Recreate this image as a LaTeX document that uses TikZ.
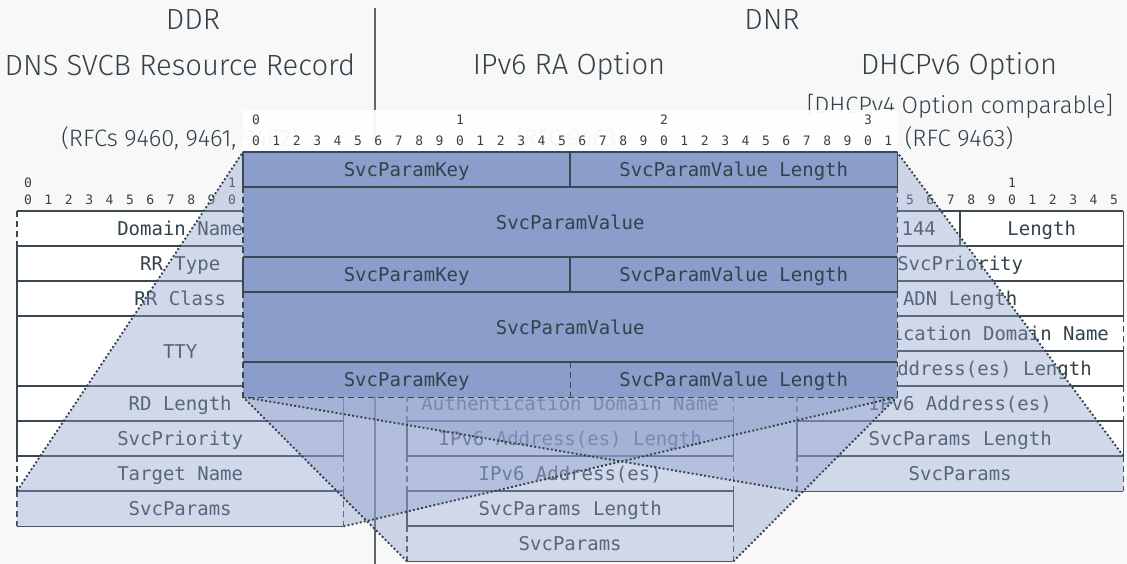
\documentclass[tikz,border=0pt]{standalone}
\usepackage{fontspec}
\setmainfont{Fira Sans Light}
\newfontfamily\fieldfont{DejaVu Sans Mono}
\definecolor{canvas}{HTML}{F8F8F8}
\definecolor{ink}{HTML}{33424A}
\definecolor{edge}{HTML}{3A4850}
\definecolor{param}{HTML}{8B9ECB}
\definecolor{divider}{HTML}{60676B}

\tikzset{
  heading/.style={font=\fontsize{29.2}{34}\selectfont, text=ink, anchor=base, inner sep=0},
  note/.style={font=\fontsize{23.8}{28}\selectfont, text=ink, anchor=base, inner sep=0},
  bitnum/.style={font=\fieldfont\fontsize{13}{13}\selectfont, text=ink, inner sep=0},
  field/.style={font=\fieldfont\fontsize{19}{19}\selectfont, text=ink, inner sep=0,
    text height=13.8pt, text depth=0pt, anchor=north west},
  border/.style={draw=edge, line width=1.2pt},
  open/.style={border, dash pattern=on 6pt off 4pt},
  funnel/.style={fill=param, fill opacity=0.4},
  zoomline/.style={draw=ink, line width=1.9pt, dash pattern=on 1.9pt off 2.3pt},
}

% \fieldrow{name}{x}{y}{width}{height}{label}{side style}{fill}
\newcommand\fieldrow[8]{%
  \node[field, fill=#8, minimum width=#4pt, minimum height=#5pt] (#1) at (#2,#3) {#6};
  \draw[border] (#1.north west) -- (#1.north east) (#1.south west) -- (#1.south east);
  \draw[#7] (#1.north west) -- (#1.south west) (#1.north east) -- (#1.south east);
}

\begin{document}
\begin{tikzpicture}[x=1pt, y=-1pt]
\useasboundingbox (0,0) rectangle (1127,564);
\fill[canvas] (0,0) rectangle (1127,564);

% corners of the magnified SvcParams block
\coordinate (ovNW) at (243,152);
\coordinate (ovNE) at (897,152);
\coordinate (ovSE) at (897,397);
\coordinate (ovSW) at (243,397);

% headings
\node[heading] (ddr) at (193,30) {DDR};
\node[heading] (svcb) at (180,76) {DNS SVCB Resource Record};
\node[heading] (dnr) at (772,30) {DNR};
\node[heading] (ra) at (569,75) {IPv6 RA Option};
\node[heading] (dhcp) at (959,75) {DHCPv6 Option};
\node[note] (v4) at (960,114) {[DHCPv4 Option comparable]};
\node[note] (rfcsvcb) at (180,147) {(RFCs 9460, 9461, 9462)};
\node[note] (rfcra) at (570,147) {(RFC 9463)};
\node[note] (rfcdhcp) at (959,147) {(RFC 9463)};

% DDR | DNR separator
\coordinate (septop) at (375,8);
\coordinate (sepbot) at (375,564);
\draw[divider, line width=1.5pt] (septop) -- (sepbot);

% bit rulers of the 16-bit layouts
\foreach \i in {0,...,15} {
  \pgfmathtruncatemacro\d{mod(\i,10)}
  \node[bitnum] (lbit\i) at (28+20.4*\i,200) {\d};
  \node[bitnum] (rbit\i) at (808+20.4*\i,200) {\d};
}
\node[bitnum] (lten0) at (28,183) {0};
\node[bitnum] (lten1) at (232,183) {1};
\node[bitnum] (rten0) at (808,183) {0};
\node[bitnum] (rten1) at (1012,183) {1};

% DNS SVCB resource record
\fieldrow{dn}{17}{211}{326}{35}{Domain Name}{open}{white}
\fieldrow{rrtype}{17}{246}{326}{35}{RR Type}{border}{white}
\fieldrow{rrclass}{17}{281}{326}{35}{RR Class}{border}{white}
\fieldrow{ttl}{17}{316}{326}{70}{TTY}{border}{white}
\fieldrow{rdlen}{17}{386}{326}{35}{RD Length}{border}{white}
\fieldrow{ddrprio}{17}{421}{326}{35}{SvcPriority}{border}{white}
\fieldrow{target}{17}{456}{326}{35}{Target Name}{open}{white}
\fieldrow{ddrparams}{17}{491}{326}{35}{SvcParams}{open}{white}

% IPv6 RA option
\fieldrow{raadn}{407}{386}{326}{35}{Authentication Domain Name}{open}{white}
\fieldrow{raaddrlen}{407}{421}{326}{35}{IPv6 Address(es) Length}{border}{white}
\fieldrow{raaddr}{407}{456}{326}{35}{IPv6 Address(es)}{open}{white}
\fieldrow{raplen}{407}{491}{326}{35}{SvcParams Length}{border}{white}
\fieldrow{raparams}{407}{526}{326}{35}{SvcParams}{open}{white}

% DHCPv6 option
\fieldrow{dhcpcode}{797}{211}{163}{35}{Option 144}{border}{white}
\fieldrow{dhcplen}{960}{211}{163}{35}{Length}{border}{white}
\fieldrow{dhcpprio}{797}{246}{326}{35}{SvcPriority}{border}{white}
\fieldrow{dhcpadnlen}{797}{281}{326}{35}{ADN Length}{border}{white}
\fieldrow{dhcpadn}{797}{316}{326}{35}{Authentication Domain Name}{open}{white}
\fieldrow{dhcpaddrlen}{797}{351}{326}{35}{IPv6 Address(es) Length}{border}{white}
\fieldrow{dhcpaddr}{797}{386}{326}{35}{IPv6 Address(es)}{open}{white}
\fieldrow{dhcpplen}{797}{421}{326}{35}{SvcParams Length}{border}{white}
\fieldrow{dhcpparams}{797}{456}{326}{35}{SvcParams}{open}{white}

% magnification funnels from each SvcParams field
\fill[funnel] (ddrparams.north west) -- (ovNW) -- (ovNE) -- (ovSE) -- (ddrparams.south east) -- (ddrparams.south west) -- cycle;
\fill[funnel] (ovNW) -- (ovNE) -- (ovSE) -- (raparams.south east) -- (raparams.south west) -- (ovSW) -- cycle;
\fill[funnel] (ovNW) -- (ovNE) -- (dhcpparams.north east) -- (dhcpparams.south east) -- (dhcpparams.south west) -- (ovSW) -- cycle;

\draw[zoomline] (ddrparams.north west) -- (ovNW);
\draw[zoomline] (ddrparams.south east) -- (ovSE);
\draw[zoomline] (raparams.south west) -- (ovSW);
\draw[zoomline] (raparams.south east) -- (ovSE);
\draw[zoomline] (dhcpparams.north east) -- (ovNE);
\draw[zoomline] (dhcpparams.south west) -- (ovSW);

% 32-bit ruler of the SvcParams block
\node[fill=white, fill opacity=0.94, minimum width=654pt, minimum height=42pt, inner sep=0, anchor=south west] (ruler) at (ovNW) {};
\foreach \i in {0,...,31} {
  \pgfmathtruncatemacro\d{mod(\i,10)}
  \node[bitnum] (obit\i) at (256+20.4*\i,141) {\d};
}
\foreach \t in {0,...,3} {
  \node[bitnum] (oten\t) at (256+204*\t,120) {\t};
}

% SvcParams layout
\fieldrow{key1}{243}{152}{327}{35}{SvcParamKey}{border}{param}
\fieldrow{len1}{570}{152}{327}{35}{SvcParamValue Length}{border}{param}
\fieldrow{val1}{243}{187}{654}{70}{SvcParamValue}{open}{param}
\fieldrow{key2}{243}{257}{327}{35}{SvcParamKey}{border}{param}
\fieldrow{len2}{570}{257}{327}{35}{SvcParamValue Length}{border}{param}
\fieldrow{val2}{243}{292}{654}{70}{SvcParamValue}{open}{param}
\node[field, fill=param, minimum width=327pt, minimum height=35pt] (key3) at (243,362) {SvcParamKey};
\node[field, fill=param, minimum width=327pt, minimum height=35pt] (len3) at (570,362) {SvcParamValue Length};
\draw[border] (key3.north west) -- (len3.north east);
\draw[open] (key3.north west) -- (key3.south west) -- (len3.south east) -- (len3.north east);
\draw[open] (key3.north east) -- (key3.south east);
\end{tikzpicture}
\end{document}
